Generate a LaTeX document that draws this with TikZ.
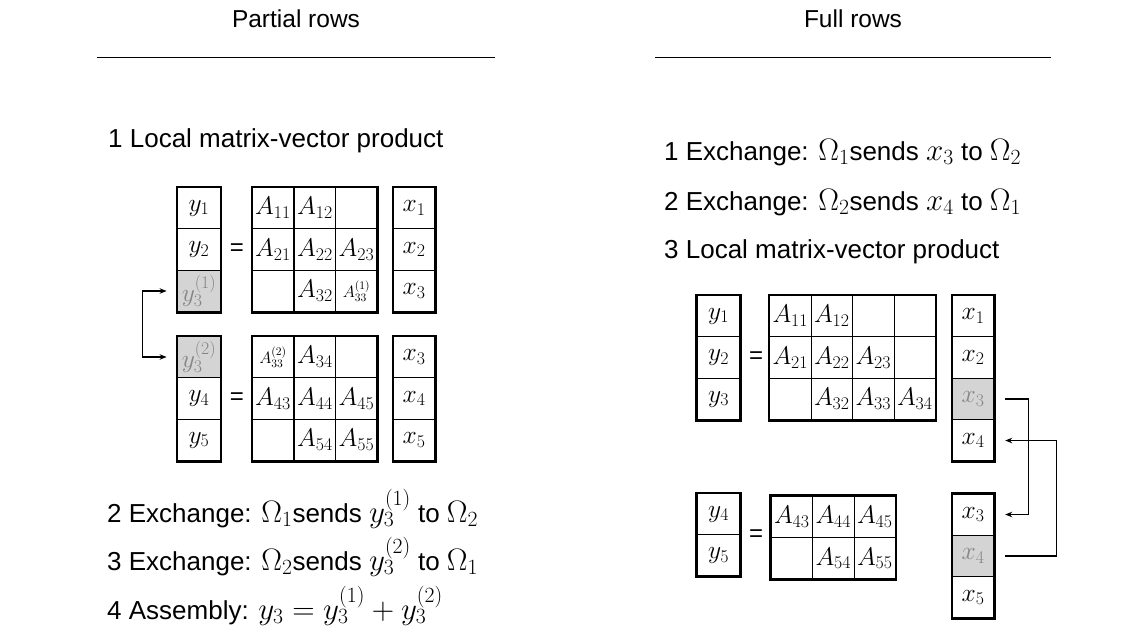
\RequirePackage{fix-cm}
\documentclass[tikz,border=0pt]{standalone}
\usepackage{fontspec}
\setmainfont{Liberation Sans}
\usetikzlibrary{arrows.meta}
\definecolor{cellgray}{HTML}{D4D4D4}
\definecolor{textgray}{HTML}{858585}
\newcommand{\zmath}[1]{{\fontsize{31}{34}\selectfont$#1$}}
\begin{document}
\begin{tikzpicture}[x=1pt,y=-1pt,
  every node/.style={font=\fontsize{25.5}{28}\selectfont},
  cell/.style={draw, line width=0.8pt, minimum width=41.6pt, minimum height=41.6pt, inner sep=0pt, anchor=center},
  ycell/.style={cell, minimum width=43pt},
  gcell/.style={fill=cellgray, text=textgray},
  frame/.style={line width=2.6pt},
  txt/.style={anchor=base west, inner sep=0pt, font=\fontsize{26}{30}\selectfont},
  title/.style={anchor=base, inner sep=0pt, font=\fontsize{24.5}{28}\selectfont},
  rule/.style={line width=1.6pt},
  conn/.style={line width=1.2pt, arrows={-Stealth[length=7pt,width=5.5pt]}},
  small/.style={font=\fontsize{16.5}{18}\selectfont},
  eqs/.style={font=\fontsize{24}{28}\selectfont}
]
\useasboundingbox (0,0) rectangle (1143,638);

% headers
\node[title] (tl) at (296,27) {Partial rows};
\node[title] (tr) at (853,27) {Full rows};
\coordinate (la) at (97,57.5); \coordinate (lb) at (495,57.5);
\coordinate (ra) at (655,57.5); \coordinate (rb) at (1051,57.5);
\draw[rule] (la) -- (lb);
\draw[rule] (ra) -- (rb);

% left texts
\node[txt] (s1) at (108,147) {1 Local matrix-vector product};
\node[txt] (s2) at (107,522) {2 Exchange: \zmath{\Omega_1}sends \zmath{y_3^{(1)}} to \zmath{\Omega_2}};
\node[txt] (s3) at (107,570) {3 Exchange: \zmath{\Omega_2}sends \zmath{y_3^{(2)}} to \zmath{\Omega_1}};
\node[txt] (s4) at (107,619) {4 Assembly: \zmath{y_3 = y_3^{(1)} + y_3^{(2)}}};

% right texts
\node[txt] (r1) at (664,160) {1 Exchange: \zmath{\Omega_1}sends \zmath{x_3} to \zmath{\Omega_2}};
\node[txt] (r2) at (664,210) {2 Exchange: \zmath{\Omega_2}sends \zmath{x_4} to \zmath{\Omega_1}};
\node[txt] (r3) at (664,258) {3 Local matrix-vector product};

% ---------- left top block ----------
\node[ycell] (ly1) at (199,208) {$y_1$};
\node[ycell] (ly2) at (199,249.5) {$y_2$};
\node[ycell,gcell] (ly3a) at (199,291) {$y_3^{(1)}$};
\draw[frame] (ly1.north west) rectangle (ly3a.south east);
\node[eqs] (leq1) at (237,249.5) {=};
\node[cell] (la11) at (273,208) {$A_{11}$};
\node[cell] (la12) at (315,208) {$A_{12}$};
\node[cell] (la13) at (356.5,208) {};
\node[cell] (la21) at (273,249.5) {$A_{21}$};
\node[cell] (la22) at (315,249.5) {$A_{22}$};
\node[cell] (la23) at (356.5,249.5) {$A_{23}$};
\node[cell] (la31) at (273,291) {};
\node[cell] (la32) at (315,291) {$A_{32}$};
\node[cell,small] (la33) at (356.5,291) {$A_{33}^{(1)}$};
\draw[frame] (la11.north west) rectangle (la33.south east);
\node[cell] (lx1) at (414,208) {$x_1$};
\node[cell] (lx2) at (414,249.5) {$x_2$};
\node[cell] (lx3) at (414,291) {$x_3$};
\draw[frame] (lx1.north west) rectangle (lx3.south east);

% ---------- left bottom block ----------
\node[ycell,gcell] (ly3b) at (199,357) {$y_3^{(2)}$};
\node[ycell] (ly4) at (199,398.5) {$y_4$};
\node[ycell] (ly5) at (199,440) {$y_5$};
\draw[frame] (ly3b.north west) rectangle (ly5.south east);
\node[eqs] (leq2) at (237,398.5) {=};
\node[cell,small] (lb33) at (273,357) {$A_{33}^{(2)}$};
\node[cell] (lb34) at (315,357) {$A_{34}$};
\node[cell] (lb35) at (356.5,357) {};
\node[cell] (lb43) at (273,398.5) {$A_{43}$};
\node[cell] (lb44) at (315,398.5) {$A_{44}$};
\node[cell] (lb45) at (356.5,398.5) {$A_{45}$};
\node[cell] (lb53) at (273,440) {};
\node[cell] (lb54) at (315,440) {$A_{54}$};
\node[cell] (lb55) at (356.5,440) {$A_{55}$};
\draw[frame] (lb33.north west) rectangle (lb55.south east);
\node[cell] (lxb3) at (414,357) {$x_3$};
\node[cell] (lxb4) at (414,398.5) {$x_4$};
\node[cell] (lxb5) at (414,440) {$x_5$};
\draw[frame] (lxb3.north west) rectangle (lxb5.south east);

% left exchange arrow
\draw[conn,arrows={Stealth[length=7pt,width=5.5pt]-Stealth[length=7pt,width=5.5pt]}]
  ([xshift=-10.5pt]ly3a.west) -- ++(-24,0) |- ([xshift=-10.5pt]ly3b.west);

% ---------- right top block ----------
\node[ycell] (ry1) at (718.5,316) {$y_1$};
\node[ycell] (ry2) at (718.5,357.5) {$y_2$};
\node[ycell] (ry3) at (718.5,399) {$y_3$};
\draw[frame] (ry1.north west) rectangle (ry3.south east);
\node[eqs] (req1) at (756,357.5) {=};
\node[cell] (ra11) at (790.3,316) {$A_{11}$};
\node[cell] (ra12) at (831.8,316) {$A_{12}$};
\node[cell] (ra13) at (873.3,316) {};
\node[cell] (ra14) at (914.8,316) {};
\node[cell] (ra21) at (790.3,357.5) {$A_{21}$};
\node[cell] (ra22) at (831.8,357.5) {$A_{22}$};
\node[cell] (ra23) at (873.3,357.5) {$A_{23}$};
\node[cell] (ra24) at (914.8,357.5) {};
\node[cell] (ra31) at (790.3,399) {};
\node[cell] (ra32) at (831.8,399) {$A_{32}$};
\node[cell] (ra33) at (873.3,399) {$A_{33}$};
\node[cell] (ra34) at (914.8,399) {$A_{34}$};
\draw[frame] (ra11.north west) rectangle (ra34.south east);
\node[cell] (rxa1) at (973,316) {$x_1$};
\node[cell] (rxa2) at (973,357.5) {$x_2$};
\node[cell,gcell] (rxa3) at (973,399) {$x_3$};
\node[cell] (rxa4) at (973,440.5) {$x_4$};
\draw[frame] (rxa1.north west) rectangle (rxa4.south east);

% ---------- right bottom block ----------
\node[ycell] (ry4) at (718.5,514) {$y_4$};
\node[ycell] (ry5) at (718.5,555.5) {$y_5$};
\draw[frame] (ry4.north west) rectangle (ry5.south east);
\node[eqs] (req2) at (756,536) {=};
\node[cell] (rb43) at (791.8,516.8) {$A_{43}$};
\node[cell] (rb44) at (833.3,516.8) {$A_{44}$};
\node[cell] (rb45) at (874.8,516.8) {$A_{45}$};
\node[cell] (rb53) at (791.8,558.3) {};
\node[cell] (rb54) at (833.3,558.3) {$A_{54}$};
\node[cell] (rb55) at (874.8,558.3) {$A_{55}$};
\draw[frame] (rb43.north west) rectangle (rb55.south east);
\node[cell] (rxb3) at (973,514.5) {$x_3$};
\node[cell,gcell] (rxb4) at (973,556) {$x_4$};
\node[cell] (rxb5) at (973,597.5) {$x_5$};
\draw[frame] (rxb3.north west) rectangle (rxb5.south east);

% right exchange arrows
\draw[conn] ([xshift=11pt]rxa3.east) -- ++(23,0) |- ([xshift=11pt]rxb3.east);
\draw[conn] ([xshift=11pt]rxb4.east) -- ++(51,0) |- ([xshift=11pt]rxa4.east);
\end{tikzpicture}
\end{document}
